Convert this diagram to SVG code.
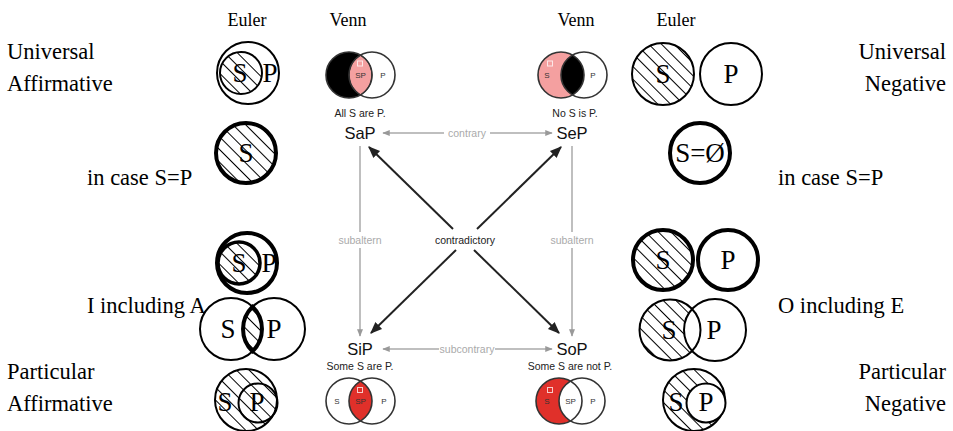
<svg xmlns="http://www.w3.org/2000/svg" width="953" height="431" viewBox="0 0 953 431">
<style>
.serif{font-family:"Liberation Serif","Times New Roman",serif;fill:#000}
.lbl{font-size:22.5px}
.hdr{font-size:18px;text-anchor:middle}
.sp{font-size:27px;text-anchor:middle}
.sans{font-family:"Liberation Sans",Arial,sans-serif}
.prop{font-size:16.5px;fill:#111;text-anchor:middle}
.cap{font-size:10.5px;fill:#222;text-anchor:middle}
.rel{font-size:10.5px;fill:#aaa;text-anchor:middle}
.reld{font-size:10.5px;fill:#222;text-anchor:middle}
.vt{font-size:8px;fill:#333;text-anchor:middle}
.thin{fill:none;stroke:#000;stroke-width:2}
.thick{fill:none;stroke:#000;stroke-width:4}
.vc{fill:none;stroke:#333;stroke-width:1.6}
.gl{stroke:#aaa;stroke-width:1.5;fill:none}
.dl{stroke:#222;stroke-width:2;fill:none}
.sq{fill:none;stroke:#fff;stroke-opacity:0.75;stroke-width:1}
</style>
<defs>
<pattern id="hatch" patternUnits="userSpaceOnUse" width="9" height="9" patternTransform="rotate(-45)">
<line x1="4.5" y1="0" x2="4.5" y2="9" stroke="#000" stroke-width="1"/>
</pattern>
<marker id="ag" viewBox="0 0 10 10" refX="9" refY="5" markerWidth="5" markerHeight="5" orient="auto-start-reverse"><path d="M0,1 L10,5 L0,9 z" fill="#999"/></marker>
<marker id="ab" viewBox="0 0 10 10" refX="9" refY="5" markerWidth="6" markerHeight="6" orient="auto-start-reverse"><path d="M0,1 L10,5 L0,9 z" fill="#222"/></marker>
</defs>
<rect width="953" height="431" fill="#fff"/>

<g id="headers" class="serif">
<text class="hdr" x="247" y="26">Euler</text>
<text class="hdr" x="348" y="26">Venn</text>
<text class="hdr" x="576" y="26">Venn</text>
<text class="hdr" x="676" y="26">Euler</text>
</g>

<g id="labels" class="serif lbl">
<text x="7" y="59">Universal</text>
<text x="7" y="91">Affirmative</text>
<text x="87" y="185">in case S=P</text>
<text x="87" y="313">I including A</text>
<text x="7" y="379">Particular</text>
<text x="7" y="411">Affirmative</text>
<text x="946" y="59" text-anchor="end">Universal</text>
<text x="946" y="91" text-anchor="end">Negative</text>
<text x="778" y="185">in case S=P</text>
<text x="778" y="313">O including E</text>
<text x="946" y="379" text-anchor="end">Particular</text>
<text x="946" y="411" text-anchor="end">Negative</text>
</g>

<!-- Euler left -->
<g id="euler-a">
<circle cx="248" cy="73" r="31" class="thin"/>
<circle cx="241" cy="73" r="21" fill="url(#hatch)" stroke="#000" stroke-width="2"/>
<text class="serif sp" x="240" y="82">S</text>
<text class="serif sp" x="270" y="82">P</text>
</g>
<g id="euler-a-eq">
<circle cx="246" cy="153" r="30" fill="url(#hatch)" stroke="#000" stroke-width="4"/>
<text class="serif sp" x="246" y="162">S</text>
</g>
<g id="euler-i-a">
<circle cx="247" cy="263" r="30" class="thick"/>
<circle cx="239" cy="263" r="21" fill="url(#hatch)" stroke="#000" stroke-width="3.5"/>
<text class="serif sp" x="239" y="272">S</text>
<text class="serif sp" x="269" y="272">P</text>
</g>
<g id="euler-i-overlap">
<path d="M252.5,306.7 A31,31 0 0 1 252.5,351.3 A31,31 0 0 1 252.5,306.7 Z" fill="url(#hatch)" stroke="#000" stroke-width="4"/>
<circle cx="231" cy="329" r="31" class="thin"/>
<circle cx="274" cy="329" r="31" class="thin"/>
<text class="serif sp" x="228" y="338">S</text>
<text class="serif sp" x="274" y="338">P</text>
</g>
<g id="euler-i">
<circle cx="246" cy="400" r="31" fill="url(#hatch)" stroke="#000" stroke-width="2"/>
<circle cx="258" cy="403" r="19.5" class="thin"/>
<text class="serif sp" x="225" y="411">S</text>
<text class="serif sp" x="257" y="411">P</text>
</g>

<!-- Euler right -->
<g id="euler-e">
<circle cx="663" cy="74" r="31" fill="url(#hatch)" stroke="#000" stroke-width="2"/>
<circle cx="731" cy="74" r="31" class="thin"/>
<text class="serif sp" x="663" y="83">S</text>
<text class="serif sp" x="731" y="83">P</text>
</g>
<g id="euler-e-eq">
<circle cx="700" cy="153" r="30" class="thick"/>
<text class="serif sp" x="700" y="162">S=Ø</text>
</g>
<g id="euler-o-e">
<circle cx="663" cy="260" r="30" fill="url(#hatch)" stroke="#000" stroke-width="4"/>
<circle cx="728" cy="260" r="30" class="thick"/>
<text class="serif sp" x="663" y="269">S</text>
<text class="serif sp" x="728" y="269">P</text>
</g>
<g id="euler-o-overlap">
<circle cx="670" cy="330" r="30.5" fill="url(#hatch)" stroke="none"/>
<circle cx="715" cy="330" r="31" fill="#fff" stroke="none"/>
<circle cx="670" cy="330" r="30.5" class="thin"/>
<circle cx="715" cy="330" r="31" class="thin"/>
<text class="serif sp" x="669" y="339">S</text>
<text class="serif sp" x="714" y="339">P</text>
</g>
<g id="euler-o">
<circle cx="694" cy="400" r="31" fill="url(#hatch)" stroke="#000" stroke-width="2"/>
<circle cx="706" cy="403" r="19.5" fill="#fff" stroke="#000" stroke-width="2"/>
<text class="serif sp" x="676" y="411">S</text>
<text class="serif sp" x="706" y="411">P</text>
</g>

<!-- Venn diagrams -->
<g id="venn-a">
<circle cx="349" cy="75" r="23" fill="#000"/>
<path d="M360.5,55.1 A23,23 0 0 1 360.5,94.9 A23,23 0 0 1 360.5,55.1 Z" fill="#f4a0a0" stroke="#222" stroke-width="1"/>
<circle cx="349" cy="75" r="23" class="vc"/>
<circle cx="372" cy="75" r="23" class="vc"/>
<rect x="357.5" y="61" width="5" height="5" class="sq"/>
<text class="sans vt" x="360.5" y="78">SP</text>
<text class="sans vt" x="383" y="78">P</text>
<text class="sans cap" x="360" y="117">All S are P.</text>
</g>
<g id="venn-e">
<circle cx="561" cy="75" r="23" fill="#f4a0a0"/>
<path d="M572.5,55.1 A23,23 0 0 1 572.5,94.9 A23,23 0 0 1 572.5,55.1 Z" fill="#000"/>
<circle cx="561" cy="75" r="23" class="vc"/>
<circle cx="584" cy="75" r="23" class="vc"/>
<rect x="547.5" y="61" width="5" height="5" class="sq"/>
<text class="sans vt" x="547" y="78">S</text>
<text class="sans vt" x="593" y="78">P</text>
<text class="sans cap" x="575" y="117">No S is P.</text>
</g>
<g id="venn-i">
<path d="M360.5,381.1 A23,23 0 0 1 360.5,420.9 A23,23 0 0 1 360.5,381.1 Z" fill="#e0302a"/>
<circle cx="349" cy="401" r="23" class="vc"/>
<circle cx="372" cy="401" r="23" class="vc"/>
<rect x="357.5" y="387.5" width="5" height="5" class="sq"/>
<text class="sans vt" x="337" y="404">S</text>
<text class="sans vt" x="360.5" y="404">SP</text>
<text class="sans vt" x="384" y="404">P</text>
<text class="sans cap" x="360" y="370">Some S are P.</text>
</g>
<g id="venn-o">
<circle cx="559" cy="401" r="23" fill="#e0302a"/>
<path d="M570.5,381.1 A23,23 0 0 1 570.5,420.9 A23,23 0 0 1 570.5,381.1 Z" fill="#fff"/>
<circle cx="559" cy="401" r="23" class="vc"/>
<circle cx="582" cy="401" r="23" class="vc"/>
<rect x="547.5" y="387.5" width="5" height="5" class="sq"/>
<text class="sans vt" x="547" y="404">S</text>
<text class="sans vt" x="570.5" y="404">SP</text>
<text class="sans vt" x="593" y="404">P</text>
<text class="sans cap" x="570" y="370">Some S are not P.</text>
</g>

<!-- Square of opposition nodes -->
<g id="SaP"><text class="sans prop" x="360" y="139">SaP</text></g>
<g id="SeP"><text class="sans prop" x="572" y="139">SeP</text></g>
<g id="SiP"><text class="sans prop" x="360" y="355">SiP</text></g>
<g id="SoP"><text class="sans prop" x="572" y="355">SoP</text></g>

<g id="connectors">
<line class="gl" x1="383" y1="133" x2="444" y2="133" marker-start="url(#ag)"/>
<line class="gl" x1="490" y1="133" x2="552" y2="133" marker-end="url(#ag)"/>
<text class="sans rel" x="467" y="137">contrary</text>
<line class="gl" x1="383" y1="349" x2="439" y2="349" marker-start="url(#ag)"/>
<line class="gl" x1="495" y1="349" x2="552" y2="349" marker-end="url(#ag)"/>
<text class="sans rel" x="467" y="353">subcontrary</text>
<line class="gl" x1="360" y1="146" x2="360" y2="232"/>
<line class="gl" x1="360" y1="248" x2="360" y2="336" marker-end="url(#ag)"/>
<text class="sans rel" x="360" y="244">subaltern</text>
<line class="gl" x1="572" y1="146" x2="572" y2="232"/>
<line class="gl" x1="572" y1="248" x2="572" y2="336" marker-end="url(#ag)"/>
<text class="sans rel" x="572" y="244">subaltern</text>
<line class="dl" x1="369" y1="147" x2="453" y2="229" marker-start="url(#ab)"/>
<line class="dl" x1="474" y1="250" x2="559" y2="333" marker-end="url(#ab)"/>
<line class="dl" x1="561" y1="147" x2="477" y2="229" marker-start="url(#ab)"/>
<line class="dl" x1="456" y1="250" x2="371" y2="333" marker-end="url(#ab)"/>
<text class="sans reld" x="465" y="244">contradictory</text>
</g>
</svg>
